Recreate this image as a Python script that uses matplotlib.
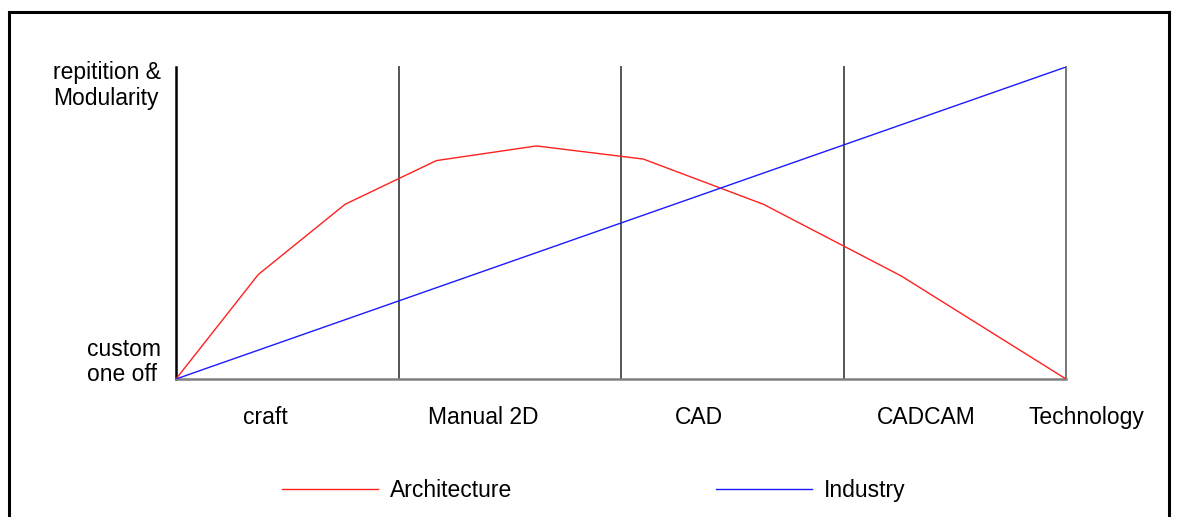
import matplotlib.pyplot as plt
import matplotlib.transforms as mtransforms
from matplotlib.lines import Line2D

plt.rcParams['font.family'] = ['Liberation Sans', 'DejaVu Sans']

# eras along the technology axis (x in era units, 0..4)
era_labels = ['craft', 'Manual 2D', 'CAD', 'CADCAM', 'Technology']
era_label_pos = [0.40, 1.38, 2.35, 3.37, 4.09]
era_bounds = [1, 2, 3, 4]

# y levels: 0 = custom one off, 1 = repitition & Modularity
level_labels = ['custom\none off', 'repitition &\nModularity']
level_pos = [0.067, 0.952]

arch_x = [0, 0.37, 0.76, 1.17, 1.62, 2.10, 2.64, 3.26, 4]
arch_y = [0, 0.335, 0.56, 0.70, 0.747, 0.705, 0.56, 0.33, 0]

ind_x = [0, 4]
ind_y = [0, 1]

fs = 16.5

fig = plt.figure(figsize=(11.8, 5.17), dpi=100)
ax = fig.add_axes([176 / 1180, 138 / 517, 890 / 1180, 312 / 517])

for b in era_bounds:
    ax.axvline(b, color='#555555' if b < 4 else '#777777', lw=1.4, zorder=1, clip_on=False)

ax.plot(arch_x, arch_y, color='#ff2020', lw=1.0, label='Architecture', zorder=3)
ax.plot(ind_x, ind_y, color='#1a1aff', lw=1.0, label='Industry', zorder=3)

for s in ['top', 'right']:
    ax.spines[s].set_visible(False)
ax.spines['left'].set_color('black')
ax.spines['left'].set_linewidth(1.8)
ax.spines['bottom'].set_color('#808080')
ax.spines['bottom'].set_linewidth(1.8)

ax.set_xticks([])
trans = mtransforms.blended_transform_factory(ax.transData, ax.transAxes)
for pos, lab in zip(era_label_pos, era_labels):
    ax.text(pos, -0.122, lab, transform=trans, ha='center', va='center',
            fontsize=fs, clip_on=False)

ax.set_yticks(level_pos, level_labels, fontsize=fs)
ax.tick_params(axis='y', length=0, pad=11)
for t in ax.get_yticklabels():
    t.set_linespacing(1.15)
    t.set_multialignment('left')

ax.set_xlim(0, 4)
ax.set_ylim(0, 1)

fig.legend(loc='center', bbox_to_anchor=(0.503, 0.052), ncol=2, frameon=False,
           fontsize=fs, handlelength=4.2, handletextpad=0.5, columnspacing=8.9)

# outer frame of the original drawing
fig.add_artist(Line2D([9 / 1180, 9 / 1180], [0, 1 - 12 / 517], color='black', lw=2.2))
fig.add_artist(Line2D([9 / 1180, 1169 / 1180], [1 - 12 / 517, 1 - 12 / 517], color='black', lw=2.2))
fig.add_artist(Line2D([1169 / 1180, 1169 / 1180], [0, 1 - 12 / 517], color='black', lw=2.2))

fig.savefig('out.png', dpi=100)
